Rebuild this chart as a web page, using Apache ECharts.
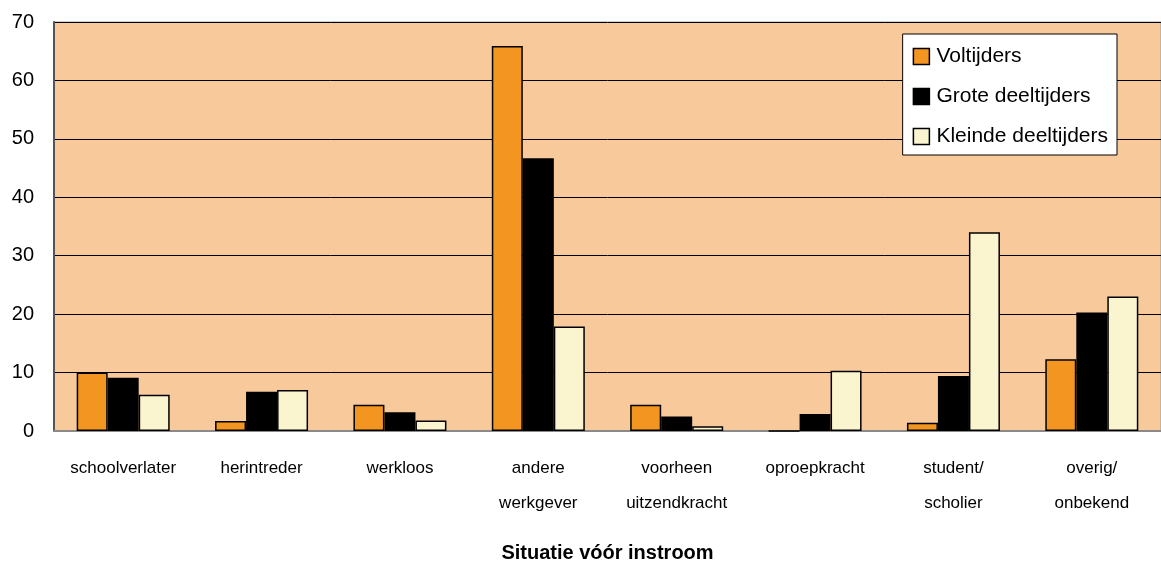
<!DOCTYPE html>
<html>
<head>
<meta charset="utf-8">
<script src="https://cdn.jsdelivr.net/npm/echarts@6/dist/echarts.min.js"></script>
<style>
html,body{margin:0;padding:0;background:#fff;}
#chart{width:1161px;height:563px;}
</style>
</head>
<body>
<div id="chart"></div>
<script>
const categories = ['schoolverlater', 'herintreder', 'werkloos', 'andere\nwerkgever', 'voorheen\nuitzendkracht', 'oproepkracht', 'student/\nscholier', 'overig/\nonbekend'];
const seriesNames = ['Voltijders', 'Grote deeltijders', 'Kleinde deeltijders'];
const voltijders = [10.0, 1.7, 4.5, 65.9, 4.5, 0, 1.4, 12.3];
const groteDeeltijders = [9.1, 6.7, 3.2, 46.7, 2.5, 2.9, 9.4, 20.3];
const kleindeDeeltijders = [6.2, 7.0, 1.8, 17.9, 0.8, 10.3, 34.0, 23.0];
const yTicks = [0, 10, 20, 30, 40, 50, 60, 70];
const xAxisTitle = 'Situatie vóór instroom';

const colors = ['#F39621', '#000000', '#FAF5CE'];
const dataSets = [voltijders, groteDeeltijders, kleindeDeeltijders];

const chart = echarts.init(document.getElementById('chart'), null, {renderer: 'canvas'});
chart.setOption({
  animation: false,
  textStyle: {fontFamily: 'Liberation Sans, Arial, sans-serif'},
  grid: {
    left: 54, right: 0, top: 22, bottom: 132,
    outerBoundsMode: 'none',
    containLabel: false,
    show: true,
    backgroundColor: '#F8C99A',
    borderColor: '#9a9a9a',
    borderWidth: 1
  },
  legend: {
    orient: 'vertical',
    right: 44,
    top: 34,
    backgroundColor: '#ffffff',
    borderColor: '#000000',
    borderWidth: 1,
    padding: [12, 9, 8, 10],
    icon: 'rect',
    itemWidth: 16,
    itemHeight: 16,
    itemGap: 19,
    itemStyle: {borderColor: '#000', borderWidth: 1.5},
    textStyle: {fontSize: 21, color: '#000', padding: [0, 0, 0, 2]},
    data: seriesNames
  },
  xAxis: {
    type: 'category',
    data: categories,
    name: xAxisTitle,
    nameLocation: 'middle',
    nameGap: 112,
    nameTextStyle: {fontSize: 20, fontWeight: 'bold', color: '#000'},
    axisLine: {lineStyle: {color: '#8a8a8a', width: 2}},
    axisTick: {show: false},
    axisLabel: {fontSize: 17, color: '#000', lineHeight: 35, margin: 20, interval: 0}
  },
  yAxis: {
    type: 'value',
    min: yTicks[0],
    max: yTicks[yTicks.length - 1],
    interval: 10,
    axisLine: {show: true, lineStyle: {color: '#555', width: 2}},
    axisTick: {show: false},
    axisLabel: {fontSize: 20, color: '#000', margin: 20},
    splitLine: {lineStyle: {color: '#000', width: 1}}
  },
  series: seriesNames.map((name, i) => ({
    name: name,
    type: 'bar',
    data: dataSets[i],
    barWidth: 31,
    barGap: '0%',
    itemStyle: {color: colors[i], borderColor: '#000', borderWidth: 1.5}
  }))
});
</script>
</body>
</html>
